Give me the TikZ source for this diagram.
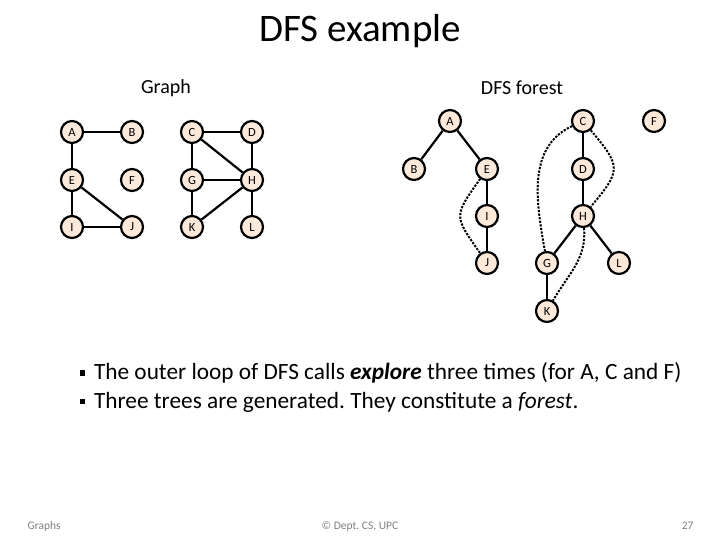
\documentclass[tikz,border=0pt]{standalone}
\usepackage{fontspec}
\setmainfont{Carlito}
\usepackage{xcolor}
\usetikzlibrary{positioning}
\definecolor{peach}{RGB}{253,233,217}
\frenchspacing

\begin{document}
\begin{tikzpicture}[
    x=1pt, y=1pt, node distance=48pt and 60pt, on grid,
    vtx/.style={circle, draw, line width=2.2pt, fill=peach, minimum size=22pt, inner sep=0pt, font=\fontsize{12.5}{12.5}\selectfont},
    tree/.style={line width=2.2pt},
    back/.style={line width=2pt, dash pattern=on 2.2pt off 1.4pt},
    sub/.style={font=\fontsize{20}{24}\selectfont},
    bul/.style={font=\fontsize{23.3}{27}\selectfont, anchor=west},
    foot/.style={font=\fontsize{11.5}{11.5}\selectfont, text=black!50},
  ]
    \useasboundingbox (0,0) rectangle (720,540);
    \node (title) at (360,509) {\fontsize{39}{39}\selectfont DFS example};
    \node[sub] (graph) at (166,452) {Graph};
    \node[sub] (forest) at (522,452) {DFS forest};

    % the graph
    \node[vtx] (gA) at (72,408) {A};
    \node[vtx, right=of gA] (gB) {B};
    \node[vtx, right=of gB] (gC) {C};
    \node[vtx, right=of gC] (gD) {D};
    \node[vtx, below=of gA] (gE) {E};
    \node[vtx, right=of gE] (gF) {F};
    \node[vtx, right=of gF] (gG) {G};
    \node[vtx, right=of gG] (gH) {H};
    \node[vtx, below=47pt of gE] (gI) {I};
    \node[vtx, right=of gI] (gJ) {J};
    \node[vtx, right=of gJ] (gK) {K};
    \node[vtx, right=of gK] (gL) {L};
    \draw[tree] (gA) -- (gB);
    \draw[tree] (gA) -- (gE);
    \draw[tree] (gE) -- (gI);
    \draw[tree] (gE) -- (gJ);
    \draw[tree] (gI) -- (gJ);
    \draw[tree] (gC) -- (gD);
    \draw[tree] (gC) -- (gG);
    \draw[tree] (gC) -- (gH);
    \draw[tree] (gD) -- (gH);
    \draw[tree] (gG) -- (gH);
    \draw[tree] (gG) -- (gK);
    \draw[tree] (gK) -- (gH);
    \draw[tree] (gH) -- (gL);

    % the DFS forest
    \node[vtx] (fA) at (450,419) {A};
    \node[vtx, below left=48pt and 36pt of fA] (fB) {B};
    \node[vtx, below right=48pt and 37pt of fA] (fE) {E};
    \node[vtx, below=47pt of fE] (fI) {I};
    \node[vtx, below=47pt of fI] (fJ) {J};
    \node[vtx] (fC) at (583,419) {C};
    \node[vtx, right=71pt of fC] (fF) {F};
    \node[vtx, below=of fC] (fD) {D};
    \node[vtx, below=47pt of fD] (fH) {H};
    \node[vtx, below left=47pt and 36pt of fH] (fG) {G};
    \node[vtx, below right=47pt and 36pt of fH] (fL) {L};
    \node[vtx, below=48pt of fG] (fK) {K};
    \draw[tree] (fA) -- (fB);
    \draw[tree] (fA) -- (fE);
    \draw[tree] (fE) -- (fI);
    \draw[tree] (fI) -- (fJ);
    \draw[tree] (fC) -- (fD);
    \draw[tree] (fD) -- (fH);
    \draw[tree] (fH) -- (fG);
    \draw[tree] (fH) -- (fL);
    \draw[tree] (fG) -- (fK);
    \draw[back] (fE) to[out=235, in=125, looseness=1.6] (fJ);
    \draw[back] (fC) to[out=205, in=100] (fG);
    \draw[back] (fC) to[out=-50, in=50, looseness=1.6] (fH);
    \draw[back] (fH) to[out=-85, in=60] (fK);

    % text below
    \node[bul] (line1) at (76,167) {\rule[4pt]{5.5pt}{5.5pt}\hspace{9pt}The outer loop of DFS calls \textbf{\textit{explore}} three times (for A, C and F)};
    \node[bul] (line2) at (76,138) {\rule[4pt]{5.5pt}{5.5pt}\hspace{9pt}Three trees are generated. They constitute a \textit{forest}.};
    \node[foot, anchor=base west] (left) at (24,10) {Graphs};
    \node[foot, anchor=base] (mid) at (360,10) {© Dept. CS, UPC};
    \node[foot, anchor=base east] (page) at (697,10) {27};
  \end{tikzpicture}
\end{document}
